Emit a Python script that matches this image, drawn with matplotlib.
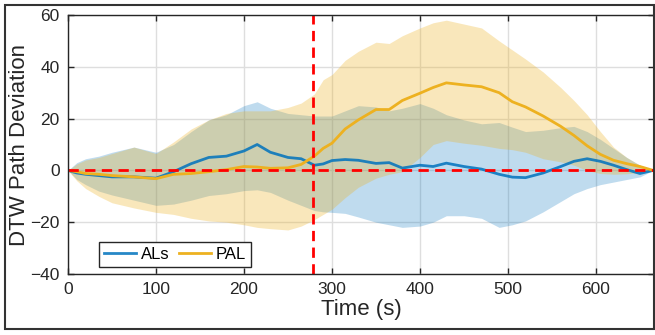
import numpy as np
import matplotlib
matplotlib.use("Agg")
import matplotlib.pyplot as plt
from matplotlib.patches import Rectangle

# time samples (s)
t = [0, 10, 20, 35, 50, 75, 100, 120, 140, 160, 180, 200, 215, 230, 250, 265,
     280, 290, 300, 315, 330, 350, 365, 380, 400, 415, 430, 450, 470, 490, 505,
     520, 540, 560, 575, 590, 605, 620, 635, 650, 665]

als_mean = [0, -1, -1.5, -2, -2.5, -2.5, -3, -0.5, 2.6, 5, 5.5, 7.5, 10, 7, 5, 4.5,
            2, 2.5, 3.8, 4.2, 3.9, 2.7, 3, 0.9, 2, 1.5, 2.8, 1.5, 0.5, -1.5, -2.6,
            -2.8, -1, 1.5, 3.5, 4.5, 3.5, 2, 0.3, -1.2, 0]
als_upper = [0, 3, 4.5, 5.5, 7, 9, 7, 10, 15, 19.5, 21.5, 25, 26.5, 24, 22, 21.5,
             21, 21, 21, 23, 25, 24.5, 23, 24, 25.8, 24, 21.5, 19.5, 18, 18.5, 16.7,
             15, 15.5, 16.5, 17, 15, 12, 8.5, 5, 2, 0]
als_lower = [0, -3.5, -5.5, -8, -9.5, -11.5, -13.5, -13, -11.5, -9.7, -9, -7.8, -7.5,
             -8.5, -11.5, -13.5, -15.5, -16, -16.2, -16.6, -18, -20, -21, -22, -21.5,
             -20, -17.5, -17.5, -18.5, -22, -21, -19.5, -16, -12, -9, -7, -5.5, -4.5,
             -3.5, -2.5, 0]

pal_mean = [0, -0.5, -1.2, -1.5, -2, -2.5, -3.2, -1.5, -1.2, -0.5, 0.3, 1.5, 1.3, 0.8,
            1, 2.3, 5.5, 8.5, 10.5, 16, 19.5, 23.5, 23.5, 27, 29.8, 32, 33.8, 33,
            32.3, 30, 26.5, 24.5, 21, 17, 13.5, 9.5, 6.2, 3.9, 2.6, 1.5, 0]
pal_upper = [0, 2.5, 4, 5, 6.5, 9, 6.5, 11, 16, 19.5, 22, 23, 23, 23, 24.3, 26,
             29.5, 35, 37, 42.5, 46, 49.5, 49, 52, 55, 57, 58, 56.5, 55, 50, 46.5,
             43, 38, 32, 27, 21.5, 15, 9, 5, 2, 0]
pal_lower = [0, -4, -7, -10, -12.5, -14.5, -16.2, -17, -18.5, -19.5, -20, -21, -22,
             -22.5, -23, -21.5, -19, -17, -15, -10.5, -6.5, -3, -1.5, -0.5, 5, 10,
             11.5, 10.5, 9.7, 8.5, 8, 7, 4.5, 3.3, 2, 0, -1.2, -1.5, -1.3, -0.8, 0]

t_event = 278
c_als = "#0072BD"
c_pal = "#EDB120"

plt.rcParams['font.family'] = ['Liberation Sans', 'DejaVu Sans']

fig = plt.figure(figsize=(6.55, 3.35), dpi=100)
ax = fig.add_axes([68 / 655, 1 - 274 / 335, 586 / 655, 259 / 335])

# ALs first, PAL band drawn over it (as in the original)
ax.fill_between(t, als_lower, als_upper, color=c_als, alpha=0.25, lw=0)
ax.plot(t, als_mean, color=c_als, lw=2, alpha=0.85, label="ALs")
ax.fill_between(t, pal_lower, pal_upper, color=c_pal, alpha=0.3, lw=0)
ax.plot(t, pal_mean, color=c_pal, lw=2, label="PAL")

ax.plot([0, t[-1]], [0, 0], color="red", lw=2, dashes=(3.7, 2.3))
ax.plot([t_event, t_event], [-40, 60], color="red", lw=2, dashes=(3.7, 2.3))

ax.set_xlim(0, 666)
ax.set_ylim(-40, 60)
ax.set_xticks(range(0, 700, 100))
ax.set_yticks(range(-40, 80, 20))
ax.tick_params(direction="in", top=True, right=True, length=4, width=1,
               labelsize=12.5, colors="#262626", pad=6)
ax.grid(True, color="#dedede", lw=1)
ax.set_axisbelow(True)
for s in ax.spines.values():
    s.set_color("#262626")
    s.set_linewidth(1)

ax.set_xlabel("Time (s)", fontsize=16, color="#262626", labelpad=1)
ax.set_ylabel("DTW Path Deviation", fontsize=16, color="#262626", labelpad=0)

leg = ax.legend(loc="lower left", bbox_to_anchor=(0.053, 0.027), ncol=2,
                fontsize=12, frameon=True, fancybox=False, borderaxespad=0,
                handlelength=1.9, columnspacing=0.6, handletextpad=0.3,
                borderpad=0.3)
leg.get_frame().set_edgecolor("#262626")
leg.get_frame().set_linewidth(1)
leg.get_frame().set_alpha(1)

fig.patches.append(Rectangle((5 / 655, 6 / 335), 0.999 - 5 / 655, 324 / 335,
                             transform=fig.transFigure, fill=False,
                             edgecolor="#333333", lw=1.5))

fig.savefig("out.png", dpi=100)
